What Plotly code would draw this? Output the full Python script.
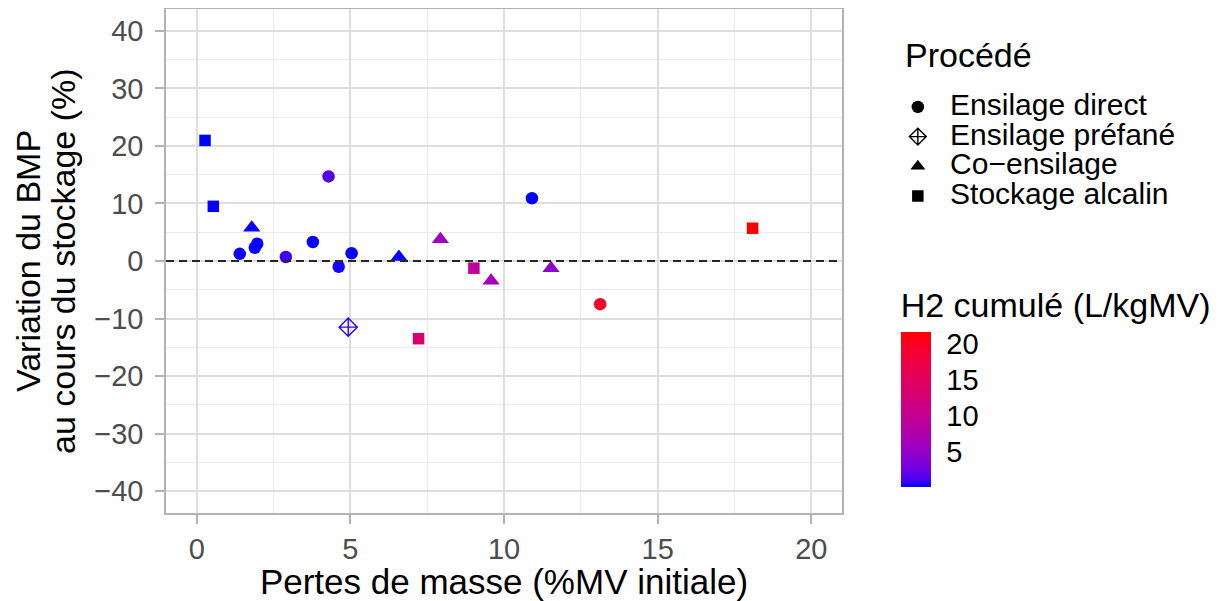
import numpy as np
import plotly.graph_objects as go

# ---------------- data ----------------
procedes = ["Ensilage direct", "Ensilage préfané", "Co\u2212ensilage", "Stockage alcalin"]

direct_x = [1.40, 1.89, 1.97, 2.90, 3.78, 4.29, 4.62, 5.04, 10.91, 13.13]
direct_y = [1.25, 2.3, 3.0, 0.7, 3.3, 14.7, -1.0, 1.35, 10.9, -7.5]
direct_h2 = [0.3, 0.2, 0.25, 1.0, 0.2, 1.5, 0.4, 0.2, 0.15, 19.5]

prefane_x = [4.93]
prefane_y = [-11.5]
prefane_h2 = [0.8]

coens_x = [1.79, 6.58, 7.93, 9.58, 11.53]
coens_y = [5.8, 0.7, 3.8, -3.45, -1.25]
coens_h2 = [0.3, 0.2, 6.0, 6.5, 4.5]

alcalin_x = [0.27, 0.54, 7.22, 9.02, 18.09]
alcalin_y = [20.96, 9.5, -13.5, -1.25, 5.7]
alcalin_h2 = [0.1, 0.2, 13.5, 9.5, 21.7]

x_ticks = [0, 5, 10, 15, 20]
y_ticks = [-40, -30, -20, -10, 0, 10, 20, 30, 40]
cb_ticks = [5, 10, 15, 20]

# ---------------- colour scale (Lab interpolation blue -> red, like ggplot) ----------------
def srgb_to_lab(rgb):
    c = np.array(rgb, dtype=float) / 255.0
    lin = np.where(c <= 0.04045, c / 12.92, ((c + 0.055) / 1.055) ** 2.4)
    M = np.array([[0.4124, 0.3576, 0.1805], [0.2126, 0.7152, 0.0722], [0.0193, 0.1192, 0.9505]])
    xyz = M @ lin
    white = np.array([0.95047, 1.0, 1.08883])
    t = xyz / white
    f = np.where(t > 0.008856, np.cbrt(t), 7.787 * t + 16 / 116)
    return np.array([116 * f[1] - 16, 500 * (f[0] - f[1]), 200 * (f[1] - f[2])])

def lab_to_srgb(lab):
    L, a, b = lab
    fy = (L + 16) / 116
    fx = fy + a / 500
    fz = fy - b / 200
    f = np.array([fx, fy, fz])
    t = np.where(f ** 3 > 0.008856, f ** 3, (f - 16 / 116) / 7.787)
    xyz = t * np.array([0.95047, 1.0, 1.08883])
    Mi = np.array([[3.2406, -1.5372, -0.4986], [-0.9689, 1.8758, 0.0415], [0.0557, -0.2040, 1.0570]])
    lin = np.clip(Mi @ xyz, 0, 1)
    c = np.where(lin <= 0.0031308, 12.92 * lin, 1.055 * lin ** (1 / 2.4) - 0.055)
    return tuple(int(round(v * 255)) for v in np.clip(c, 0, 1))

lab_lo = srgb_to_lab((0, 0, 255))
lab_hi = srgb_to_lab((255, 0, 0))
colorscale = []
for i in range(21):
    t = i / 20
    r, g, b = lab_to_srgb(lab_lo + t * (lab_hi - lab_lo))
    colorscale.append([t, f"rgb({r},{g},{b})"])

# ---------------- figure ----------------
# The page body has an 8px margin, so the figure is sized 8px smaller than the window.
FONT = "Liberation Sans, Arial, sans-serif"
fig = go.Figure()

fig.add_hline(y=0, line=dict(color="#262626", width=2.2, dash="8px,5px"), layer="above")

series = [
    (direct_x, direct_y, direct_h2, "circle", 12.5, 0),
    (prefane_x, prefane_y, prefane_h2, "diamond-cross-open", 14, 1.4),
    (coens_x, coens_y, coens_h2, "triangle-up", 15, 0),
    (alcalin_x, alcalin_y, alcalin_h2, "square", 11.5, 0),
]
for (xs, ys, cs, sym, sz, lw) in series:
    fig.add_trace(go.Scatter(
        x=xs, y=ys, mode="markers", showlegend=False,
        marker=dict(symbol=sym, size=sz, color=cs, coloraxis="coloraxis",
                    line=dict(width=lw)),
        hoverinfo="x+y",
    ))

# legend-only (black) entries
for name, (_, _, _, sym, sz, lw) in zip(procedes, series):
    fig.add_trace(go.Scatter(
        x=[None], y=[None], mode="markers",
        name=f'<span style="font-size:22px">\u00a0\u00a0</span><span style="font-size:30px">{name}</span>',
        marker=dict(symbol=sym, size=min(sz, 13), color="black",
                    line=dict(width=lw, color="black")),
        showlegend=True,
    ))

# y-axis title as two lines (tighter line spacing than plotly's default)
fig.add_annotation(text="Variation du BMP", xref="paper", yref="paper", x=-0.2042, y=0.5,
                   xanchor="center", yanchor="middle", textangle=-90, showarrow=False,
                   font=dict(size=34, family=FONT, color="black"))
fig.add_annotation(text="au cours du stockage (%)", xref="paper", yref="paper", x=-0.1524, y=0.5,
                   xanchor="center", yanchor="middle", textangle=-90, showarrow=False,
                   font=dict(size=34, family=FONT, color="black"))
# legend title
fig.add_annotation(text="Procédé", xref="paper", yref="paper", x=1.0902, y=0.9087,
                   xanchor="left", yanchor="middle", showarrow=False,
                   font=dict(size=34, family=FONT, color="black"))

fig.update_layout(
    width=1220, height=593, autosize=False,
    margin=dict(l=158, r=386, t=1, b=88, autoexpand=False),
    paper_bgcolor="white", plot_bgcolor="white",
    font=dict(family=FONT, color="black"),
    coloraxis=dict(
        colorscale=colorscale,
        colorbar=dict(
            title=dict(text="H2 cumulé (L/kgMV)", side="top", font=dict(size=34, family=FONT, color="black")),
            tickvals=cb_ticks, ticks="outside", ticklen=10, tickcolor="white",
            tickfont=dict(size=29, family=FONT, color="black"),
            thickness=30, len=198, lenmode="pixels",
            x=1.0868, xanchor="left", xpad=0,
            y=0.0516, yanchor="bottom", ypad=0,
            outlinewidth=0,
        ),
    ),
    legend=dict(
        font=dict(size=20.5, family=FONT, color="black"),
        x=1.0826, xanchor="left", y=0.845, yanchor="top",
        itemsizing="trace", bgcolor="rgba(0,0,0,0)",
    ),
    showlegend=True,
)

axis_common = dict(
    showline=True, mirror=True, linecolor="#B3B3B3", linewidth=1.5,
    ticks="outside", tickcolor="#B3B3B3", ticklen=9, tickwidth=1.5,
    tickfont=dict(size=29, family=FONT, color="#4D4D4D"),
    showgrid=True, gridcolor="#DEDEDE", gridwidth=1.5,
    zeroline=False, automargin=False,
)
fig.update_xaxes(
    **axis_common, range=[-1, 21], tickvals=x_ticks,
    minor=dict(dtick=2.5, tick0=0, showgrid=True, gridcolor="#EBEBEB", gridwidth=1, ticks=""),
    title=dict(text="Pertes de masse (%MV initiale)", font=dict(size=35, family=FONT, color="black"), standoff=4),
)
fig.update_yaxes(
    **axis_common, range=[-43.8, 43.8], tickvals=y_ticks,
    ticktext=[str(v).replace("-", "\u2212") for v in y_ticks],
    ticklabelstandoff=6,
    minor=dict(dtick=5, tick0=0, showgrid=True, gridcolor="#EBEBEB", gridwidth=1, ticks=""),
)

fig.write_html("out.html")
